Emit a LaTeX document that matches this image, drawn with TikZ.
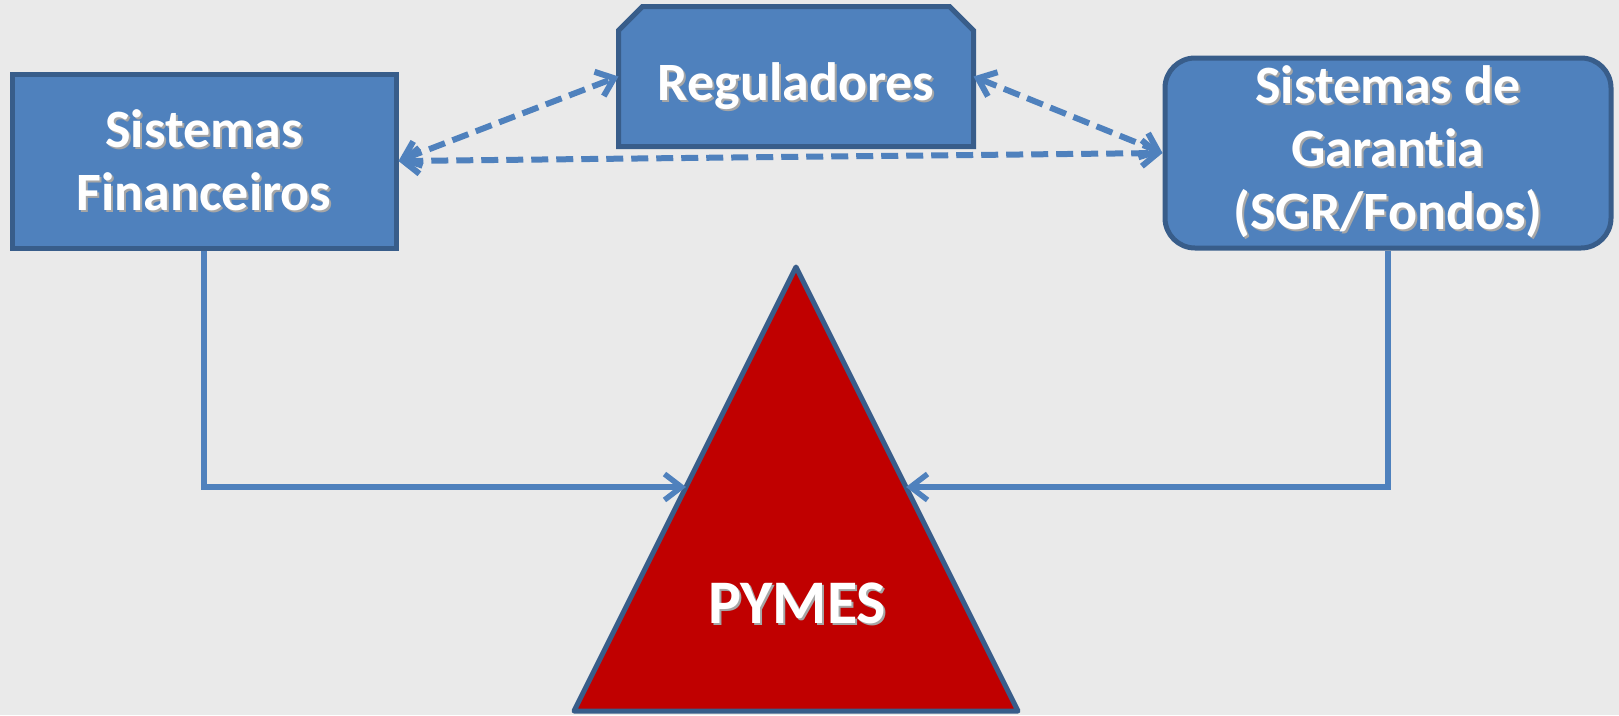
\documentclass[tikz,border=0pt]{standalone}
\usepackage{fontspec}
\setmainfont{Carlito}[Ligatures=NoCommon]
\usetikzlibrary{arrows.meta,calc,backgrounds}
\definecolor{boxfill}{HTML}{4F81BD}
\definecolor{boxline}{HTML}{385D8A}
\definecolor{pymered}{HTML}{C00000}
\definecolor{paper}{HTML}{EAEAEA}
% white text with a soft drop shadow
\newcommand\shtext[1]{\makebox[0pt][l]{\hspace*{2pt}\raisebox{-2pt}{\textcolor{black!35}{#1}}}#1}

\begin{document}
\begin{tikzpicture}[x=1pt,y=-1pt,
		box/.style={draw=boxline,fill=boxfill,line width=5pt,text=white,align=center,
			font=\fontsize{54pt}{63pt}\selectfont\bfseries},
		link/.style={draw=boxfill,line width=5.5pt,
			arrows={-Straight Barb[length=17pt,width=26pt]}},
		dlink/.style={link,line width=6pt,dash pattern=on 17pt off 8pt,
			arrows={Straight Barb[length=16pt,width=26pt]-Straight Barb[length=16pt,width=26pt]}}]
	\useasboundingbox (0,0) rectangle (1619,715);

	% boxes
	\node (fin) [box,minimum width=384pt,minimum height=174pt] at (204,161)
		{\shtext{Sistemas}\\\shtext{Financeiros}};
	\node (reg) [box,draw=none,fill=none,minimum width=350pt,minimum height=135pt,
		text height=48pt,text depth=1pt] at (796,76.5) {\shtext{Reguladores}};
	\node (gar) [box,rounded corners=30pt,minimum width=446pt,minimum height=190pt] at (1388,153)
		{\shtext{Sistemas de}\\\shtext{Garantia}\\\shtext{(SGR/Fondos)}};

	% triangle
	\coordinate (apex) at (796,267);
	\coordinate (bl) at (574,711);
	\coordinate (br) at (1018,711);
	\filldraw[fill=pymered,draw=boxline,line width=5pt,line join=round]
		(apex) -- (bl) -- (br) -- cycle;
	\coordinate (tl) at ($(apex)!0.4955!(bl)$);
	\coordinate (tr) at ($(apex)!0.4955!(br)$);
	\node (pymes) [anchor=base,text=white,font=\fontsize{62pt}{70pt}\selectfont\bfseries]
		at (797,623) {\shtext{PYMES}};

	% connectors
	\path[link] (fin.south) |- (tl);
	\path[link] (gar.south) |- (tr);
	\path[dlink] (fin.east) -- (reg.west);
	\path[dlink] (reg.east) -- (gar.west);
	\path[dlink] (fin.east) -- (gar.west);

	\begin{scope}[on background layer]
		\fill[paper] (0,0) rectangle (1619,715);
		\filldraw[fill=boxfill,draw=boxline,line width=5pt]
			(reg.south west) -- ([yshift=-24pt]reg.north west) -- ([xshift=24pt]reg.north west)
			-- ([xshift=-24pt]reg.north east) -- ([yshift=-24pt]reg.north east)
			-- (reg.south east) -- cycle;
	\end{scope}
\end{tikzpicture}
\end{document}
